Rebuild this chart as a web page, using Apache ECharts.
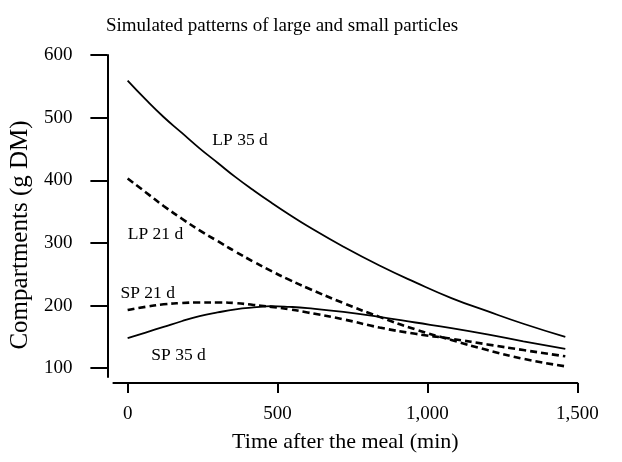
<!DOCTYPE html>
<html>
<head>
<meta charset="utf-8">
<script src="https://cdn.jsdelivr.net/npm/echarts@6/dist/echarts.min.js"></script>
<style>html,body{margin:0;padding:0;background:#fff}#c{width:622px;height:462px}</style>
</head>
<body>
<div id="c"></div>
<script>
var times = [0, 60, 120, 180, 240, 300, 360, 420, 480, 540, 600, 720, 840, 960, 1080, 1200, 1320, 1460];
var lp35 = [559, 529, 501, 476, 451, 428, 405, 384, 364, 345, 327, 294, 264, 237, 212, 191, 171, 150];
var lp21 = [403, 381, 359, 339, 320, 303, 286, 270, 255, 241, 228, 204, 182, 162, 145, 129, 115, 103];
var sp35 = [148, 157, 166, 175, 183, 189, 194, 197, 199, 198, 196, 190, 182, 173, 164, 154, 143, 131];
var sp21 = [193, 198, 202, 204, 205, 205, 204, 201, 198, 194, 189, 178, 165, 155, 147, 138, 129, 119];
var xTicks = [0, 500, 1000, 1500];
var yTicks = [100, 200, 300, 400, 500, 600];
var curveLabels = ['LP 35 d', 'LP 21 d', 'SP 21 d', 'SP 35 d'];
var labelX = [375, 93, 67, 170];
var labelY = [463, 314, 220, 120];

function pairs(ys) { return times.map(function (t, i) { return [t, ys[i]]; }); }
var FONT = '"Liberation Serif", "Times New Roman", serif';

var chart = echarts.init(document.getElementById('c'), null, { renderer: 'canvas' });
function lineSeries(name, ys, dashed) {
  return {
    name: name, type: 'line', data: pairs(ys), smooth: true, symbol: 'none',
    lineStyle: { color: '#000', width: dashed ? 2.6 : 1.8, type: dashed ? [7, 4] : 'solid' },
    silent: true, z: 3
  };
}
chart.setOption({
  animation: false,
  backgroundColor: '#fff',
  title: {
    text: 'Simulated patterns of large and small particles',
    left: 101, top: 12,
    textStyle: { fontFamily: FONT, fontSize: 19, fontWeight: 'normal', color: '#000' }
  },
  grid: { left: 111.7, right: 44.7, top: 55, bottom: 85 },
  xAxis: {
    type: 'value', min: -47.5, max: 1500, offset: 6,
    name: 'Time after the meal (min)', nameLocation: 'middle', nameGap: 48,
    nameTextStyle: { fontFamily: FONT, fontSize: 22, color: '#000' },
    axisLine: { show: true, onZero: false, lineStyle: { color: '#000', width: 2 } },
    axisTick: { show: true, inside: false, length: 10, lineStyle: { color: '#000', width: 2 }, customValues: xTicks },
    axisLabel: { customValues: xTicks, margin: 22, fontFamily: FONT, fontSize: 19, color: '#000',
      formatter: function (v) { return v.toLocaleString('en-US'); } },
    splitLine: { show: false }
  },
  yAxis: {
    type: 'value', min: 86, max: 600, offset: 6,
    name: 'Compartments (g DM)', nameLocation: 'middle', nameGap: 70,
    nameTextStyle: { fontFamily: FONT, fontSize: 25, color: '#000', padding: [0, 38, 0, 0] },
    axisLine: { show: true, onZero: false, lineStyle: { color: '#000', width: 2 } },
    axisTick: { show: true, inside: false, length: 17, lineStyle: { color: '#000', width: 2 }, customValues: yTicks },
    axisLabel: { customValues: yTicks, margin: 35, fontFamily: FONT, fontSize: 19, color: '#000' },
    splitLine: { show: false }
  },
  series: [
    lineSeries('LP 35 d', lp35, false),
    lineSeries('LP 21 d', lp21, true),
    lineSeries('SP 35 d', sp35, false),
    lineSeries('SP 21 d', sp21, true),
    {
      type: 'scatter', symbolSize: 0, silent: true, z: 5,
      itemStyle: { opacity: 1 },
      data: curveLabels.map(function (n, i) { return { name: n, value: [labelX[i], labelY[i]] }; }),
      label: { show: true, position: 'inside', formatter: '{b}', fontFamily: FONT, fontSize: 17.5,
        color: '#000', opacity: 1, textBorderWidth: 0, textBorderColor: 'transparent' }
    }
  ]
});
</script>
</body>
</html>
